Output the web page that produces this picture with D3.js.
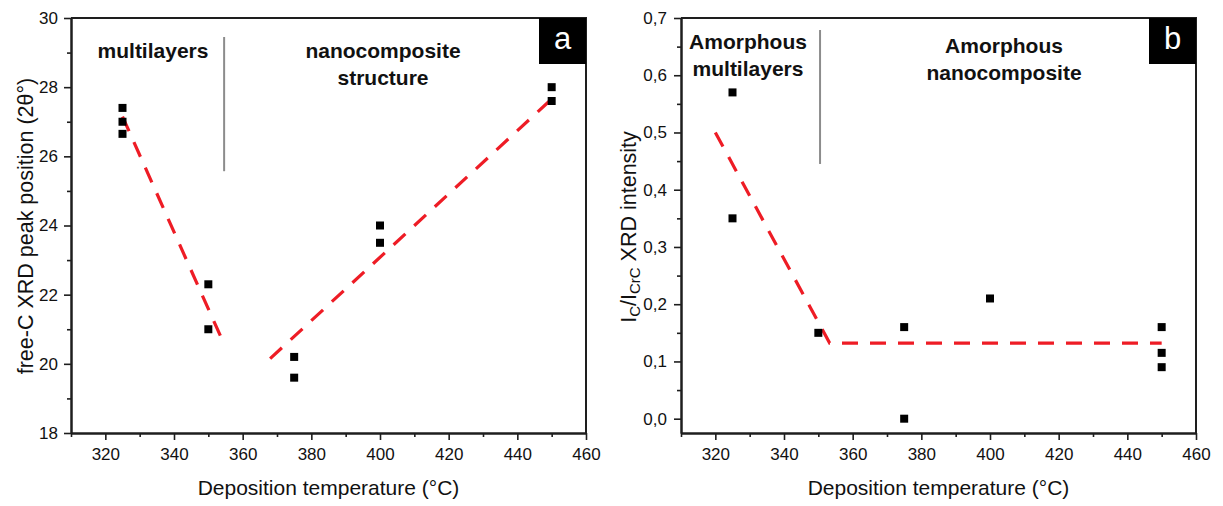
<!DOCTYPE html>
<html>
<head>
<meta charset="utf-8">
<script src="https://cdn.jsdelivr.net/npm/d3@7"></script>
<style>
  body { margin: 0; background: #fff; }
  text { font-family: "Liberation Sans", Arial, sans-serif; }
</style>
</head>
<body>
<script>
//Data
    // panel a: free-C XRD peak position
    const tempsA = [325, 325, 325, 350, 350, 375, 375, 400, 400, 450, 450];
    const peakA  = [27.4, 27.0, 26.65, 22.3, 21.0, 20.2, 19.6, 24.0, 23.5, 28.0, 27.6];
    const fitA1T = [325, 354];
    const fitA1V = [27.15, 20.7];
    const fitA2T = [368, 451];
    const fitA2V = [20.15, 27.75];
    const sepA = 354.6;

    // panel b: I_C / I_CrC intensity ratio
    const tempsB = [325, 325, 350, 375, 375, 400, 450, 450, 450];
    const ratioB = [0.57, 0.35, 0.15, 0.16, 0.0, 0.21, 0.16, 0.115, 0.09];
    const fitBT  = [320, 353.3, 450];
    const fitBV  = [0.5, 0.132, 0.132];
    const sepB = 350.5;

    const xTicks = [320, 340, 360, 380, 400, 420, 440, 460];
    const yTicksA = [18, 20, 22, 24, 26, 28, 30];
    const yTicksB = [0, 0.1, 0.2, 0.3, 0.4, 0.5, 0.6, 0.7];


//Set up dimensions
    const width = 1223;
    const height = 506;
    const plotTop = 18;
    const plotBottom = 433;
    const axisColor = "#1e1e1e";
    const red = "#ee1c25";


//Make the SVG
    const svg = d3.select("body")
                .append("svg")
                .attr("width", width)
                .attr("height", height);


    function drawPanel(p) {
        const xScale = d3.scaleLinear()
                        .domain([310, 460])
                        .range([p.left, p.right]);

        const yScale = d3.scaleLinear()
                        .domain(p.yDomain)
                        .range([plotBottom, plotTop]);

        const g = svg.append("g");

        // minor ticks
        const minorX = d3.range(310, 461, 10).filter(v => !xTicks.includes(v));
        const bottomMinor = d3.axisBottom(xScale).tickValues(minorX).tickSize(4).tickFormat("").tickSizeOuter(0);
        const leftMinor = d3.axisLeft(yScale).tickValues(p.yMinor).tickSize(4).tickFormat("").tickSizeOuter(0);

        const bottomAxis = d3.axisBottom(xScale)
                            .tickValues(xTicks)
                            .tickSize(7)
                            .tickPadding(8)
                            .tickSizeOuter(0);

        const leftAxis = d3.axisLeft(yScale)
                           .tickValues(p.yTicks)
                           .tickSize(7)
                           .tickPadding(p.yPad)
                           .tickFormat(p.yFormat)
                           .tickSizeOuter(0);

        [bottomMinor, bottomAxis].forEach(ax => {
            g.append("g")
                .attr("transform", "translate(0," + plotBottom + ")")
                .call(ax);
        });
        [leftMinor, leftAxis].forEach(ax => {
            g.append("g")
                .attr("transform", "translate(" + p.left + ",0)")
                .call(ax);
        });

        g.selectAll(".domain").attr("stroke", axisColor).attr("stroke-width", 2);
        g.selectAll(".tick line").attr("stroke", axisColor).attr("stroke-width", 1.6);
        g.selectAll(".tick text")
            .attr("font-size", 17)
            .attr("fill", "#111")
            .style("font-family", "Liberation Sans, Arial, sans-serif");

        // box top & right
        g.append("path")
            .attr("d", "M" + p.left + "," + plotTop + "H" + p.right + "V" + plotBottom)
            .attr("fill", "none")
            .attr("stroke", axisColor)
            .attr("stroke-width", 2);

        // separator line
        g.append("line")
            .attr("x1", xScale(p.sep)).attr("x2", xScale(p.sep))
            .attr("y1", yScale(p.sepRange[0])).attr("y2", yScale(p.sepRange[1]))
            .attr("stroke", "#8c8c8c")
            .attr("stroke-width", 2);

        // dashed trend lines
        const line = d3.line()
                       .x(d => xScale(d[0]))
                       .y(d => yScale(d[1]));
        p.fits.forEach(f => {
            g.append("path")
                .datum(f[0].map((t, i) => [t, f[1][i]]))
                .attr("d", line)
                .attr("fill", "none")
                .attr("stroke", red)
                .attr("stroke-width", 3.2)
                .attr("stroke-dasharray", "16,12");
        });

        // squares
        g.selectAll("rect.pt")
            .data(p.xs.map((t, i) => [t, p.ys[i]]))
            .enter()
            .append("rect")
            .attr("class", "pt")
            .attr("x", d => xScale(d[0]) - 4)
            .attr("y", d => yScale(d[1]) - 4)
            .attr("width", 8)
            .attr("height", 8)
            .attr("fill", "#000");

        // region labels
        p.labels.forEach(l => {
            const t = g.append("text")
                .attr("text-anchor", "middle")
                .attr("font-size", 21)
                .attr("font-weight", "bold")
                .attr("fill", "#111");
            l.lines.forEach((s, i) => {
                t.append("tspan")
                    .attr("x", l.x)
                    .attr("y", l.y + i * 27)
                    .text(s);
            });
        });

        // panel letter
        g.append("rect")
            .attr("x", p.right - 47)
            .attr("y", plotTop)
            .attr("width", 47)
            .attr("height", 46)
            .attr("fill", "#000");
        g.append("text")
            .attr("x", p.right - 23.5)
            .attr("y", 49)
            .attr("text-anchor", "middle")
            .attr("font-size", 31)
            .attr("fill", "#fff")
            .text(p.letter);

        // x title
        g.append("text")
            .attr("x", (p.left + p.right) / 2)
            .attr("y", 495)
            .attr("text-anchor", "middle")
            .attr("font-size", 21)
            .attr("fill", "#111")
            .text("Deposition temperature (°C)");

        // y title
        const yt = g.append("text")
            .attr("transform", "translate(" + p.yTitleX + "," + p.yTitleY + ") rotate(-90)")
            .attr("text-anchor", "middle")
            .attr("font-size", 21.5)
            .attr("fill", "#111");
        p.yTitle(yt);
    }


//Panel a
    drawPanel({
        left: 71, right: 586,
        yDomain: [18, 30],
        yTicks: yTicksA,
        yMinor: d3.range(19, 30, 2),
        yPad: 6,
        yFormat: d3.format("d"),
        xs: tempsA, ys: peakA,
        fits: [[fitA1T, fitA1V], [fitA2T, fitA2V]],
        sep: sepA, sepRange: [29.45, 25.57],
        labels: [
            { x: 153, y: 58, lines: ["multilayers"] },
            { x: 383, y: 58, lines: ["nanocomposite", "structure"] }
        ],
        letter: "a",
        yTitleX: 33, yTitleY: 226,
        yTitle: t => t.text("free-C XRD peak position (2θ°)")
    });

//Panel b
    drawPanel({
        left: 681, right: 1196,
        yDomain: [-0.025, 0.7],
        yTicks: yTicksB,
        yMinor: d3.range(0.05, 0.7, 0.1),
        yPad: 7,
        yFormat: d => d3.format(".1f")(d).replace(".", ","),
        xs: tempsB, ys: ratioB,
        fits: [[fitBT, fitBV]],
        sep: sepB, sepRange: [0.679, 0.445],
        labels: [
            { x: 748, y: 49, lines: ["Amorphous", "multilayers"] },
            { x: 1004, y: 53, lines: ["Amorphous", "nanocomposite"] }
        ],
        letter: "b",
        yTitleX: 636, yTitleY: 227,
        yTitle: t => {
            t.append("tspan").text("I");
            t.append("tspan").attr("font-size", 15).attr("dy", 4).text("C");
            t.append("tspan").attr("dy", -4).text("/I");
            t.append("tspan").attr("font-size", 15).attr("dy", 4).text("CrC");
            t.append("tspan").attr("dy", -4).text(" XRD intensity");
        }
    });
</script>
</body>
</html>
